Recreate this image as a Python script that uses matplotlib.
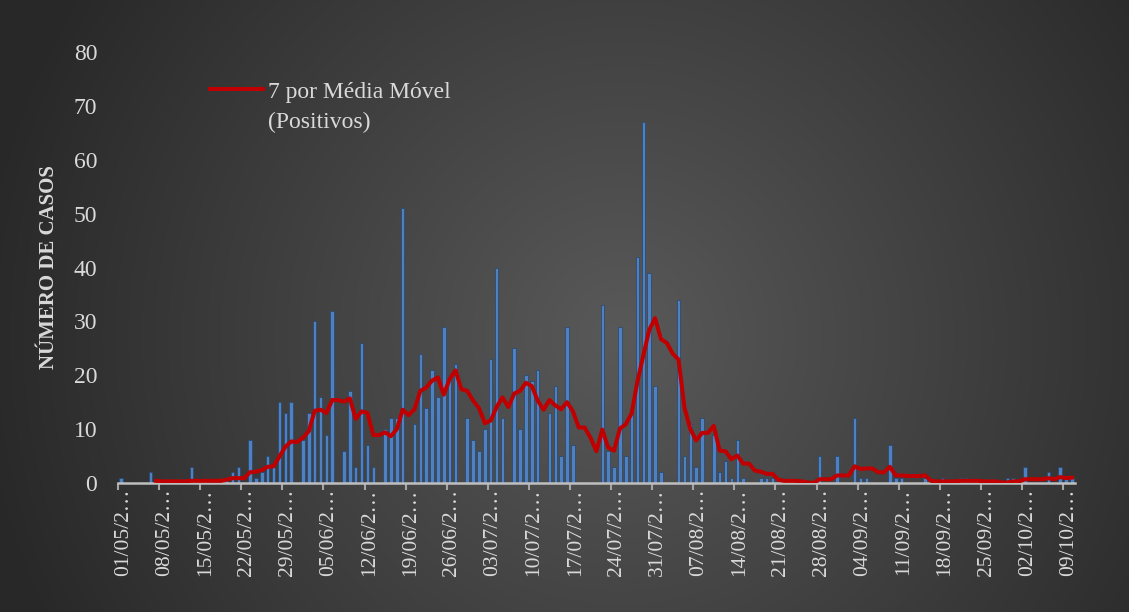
import numpy as np
import pandas as pd
import matplotlib.pyplot as plt

# Daily positive cases, 01/05 to 10/10
dates = pd.date_range('2020-05-01', periods=163)
positivos = [
    1, 0, 0, 0, 0, 2, 0, 0, 0, 0, 0, 0, 3, 0, 0, 0, 0, 0, 1, 2,
    3, 0, 8, 1, 2, 5, 3, 15, 13, 15, 0, 8, 13, 30, 16, 9, 32, 0, 6, 17,
    3, 26, 7, 3, 0, 10, 12, 12, 51, 0, 11, 24, 14, 21, 16, 29, 20, 22, 0, 12,
    8, 6, 10, 23, 40, 12, 0, 25, 10, 20, 19, 21, 0, 13, 18, 5, 29, 7, 0, 0,
    0, 0, 33, 6, 3, 29, 5, 14, 42, 67, 39, 18, 2, 0, 0, 34, 5, 11, 3, 12,
    0, 9, 2, 4, 1, 8, 1, 0, 0, 1, 1, 1, 0, 0, 0, 0, 0, 0, 0, 5,
    0, 0, 5, 0, 0, 12, 1, 1, 0, 0, 0, 7, 1, 1, 0, 0, 0, 1, 0, 0,
    1, 0, 0, 1, 1, 0, 0, 0, 0, 0, 0, 1, 1, 0, 3, 0, 0, 0, 2, 0,
    3, 1, 1,
]

# 7-day moving average line (starts at 07/05)
media_movel = [
    0.4, 0.3, 0.3, 0.3, 0.3, 0.3, 0.4, 0.4, 0.4, 0.4, 0.4, 0.4, 0.6, 0.9,
    0.9, 0.9, 2.0, 2.1, 2.4, 3.0, 3.1, 4.9, 6.7, 7.7, 7.6, 8.4, 9.6, 13.4,
    13.6, 13.0, 15.4, 15.4, 15.1, 15.7, 11.9, 13.3, 13.0, 8.9, 8.9, 9.4, 8.7, 10.0,
    13.6, 12.6, 13.7, 17.1, 17.7, 19.0, 19.6, 16.4, 19.3, 20.9, 17.4, 17.1, 15.3, 13.9,
    11.1, 11.6, 14.1, 15.9, 14.1, 16.6, 17.1, 18.6, 18.0, 15.3, 13.6, 15.4, 14.4, 13.7,
    15.0, 13.3, 10.3, 10.3, 8.4, 5.9, 9.9, 6.6, 6.0, 10.1, 10.9, 12.9, 18.9, 23.7,
    28.4, 30.6, 26.7, 26.0, 24.0, 22.9, 14.0, 10.0, 7.9, 9.3, 9.3, 10.6, 6.0, 5.9,
    4.4, 5.1, 3.6, 3.6, 2.3, 2.1, 1.7, 1.7, 0.6, 0.4, 0.4, 0.4, 0.3, 0.1,
    0.0, 0.7, 0.7, 0.7, 1.4, 1.4, 1.4, 3.1, 2.6, 2.7, 2.7, 2.0, 2.0, 3.0,
    1.4, 1.4, 1.3, 1.3, 1.3, 1.4, 0.4, 0.3, 0.3, 0.3, 0.3, 0.4, 0.4, 0.4,
    0.4, 0.3, 0.3, 0.3, 0.1, 0.1, 0.3, 0.3, 0.7, 0.7, 0.7, 0.7, 0.9, 0.7,
    1.1, 0.9, 1.0,
]

x = np.arange(len(dates))
labels = [d.strftime('%d/%m/2') + '…' for d in dates]

plt.rcParams['font.family'] = ['Liberation Serif', 'DejaVu Serif']
txt = '#d9d9d9'

fig = plt.figure(figsize=(11.29, 6.12), dpi=100)

# radial dark-grey background
bg = fig.add_axes([0, 0, 1, 1], zorder=0)
yy, xx = np.mgrid[0:1:306j, 0:1:565j]
r = np.sqrt(((xx - 0.55) * 1.85) ** 2 + (yy - 0.55) ** 2)
r = np.clip(r / 1.05, 0, 1)
shade = 0.35 - 0.19 * r
bg.imshow(np.dstack([shade, shade, shade]), aspect='auto', extent=[0, 1, 0, 1])
bg.axis('off')

ax = fig.add_axes([0.1045, 0.2108, 0.8475, 0.7042], zorder=1)
ax.patch.set_alpha(0)

ax.bar(x, positivos, width=0.6, color='#4f80c0', edgecolor='#26466e', linewidth=0.5, zorder=2)
ax.plot(x[6:], media_movel, color='#c00000', lw=2.9, solid_joinstyle='round', zorder=3,
        label='7 por Média Móvel')

ax.set_xlim(-0.5, len(dates) - 0.5)
ax.set_ylim(0, 80)
ax.set_yticks(range(0, 81, 10))
ax.tick_params(axis='y', length=0, labelsize=17, labelcolor=txt, pad=15)

# date labels every 7 days, tick marks on the category boundaries
ax.set_xticks(x[::7] + 0.4)
ax.set_xticklabels(labels[::7], rotation=90, fontsize=15.5, color=txt)
ax.set_xticks(x[::7] - 0.5, minor=True)
ax.tick_params(axis='x', which='major', length=0, pad=4)
ax.tick_params(axis='x', which='minor', length=5, width=1.5, color='#a6a6a6')

for s in ['top', 'right', 'left']:
    ax.spines[s].set_visible(False)
ax.spines['bottom'].set_color('#bfbfbf')
ax.spines['bottom'].set_linewidth(1.8)

fig.text(0.043, 0.564, 'NÚMERO DE CASOS', rotation=90, ha='center', va='center',
         fontsize=15, fontweight='bold', color=txt)

fig.legend(loc='upper left', bbox_to_anchor=(0.186, 1 - 81 / 612), frameon=False,
           fontsize=17, handlelength=2.25, handletextpad=0.2, borderpad=0,
           borderaxespad=0, labelcolor=txt)
fig.text(268 / 1129, 1 - 122 / 612, '(Positivos)', fontsize=17, color=txt, va='center')

fig.savefig('out.png', dpi=100)
